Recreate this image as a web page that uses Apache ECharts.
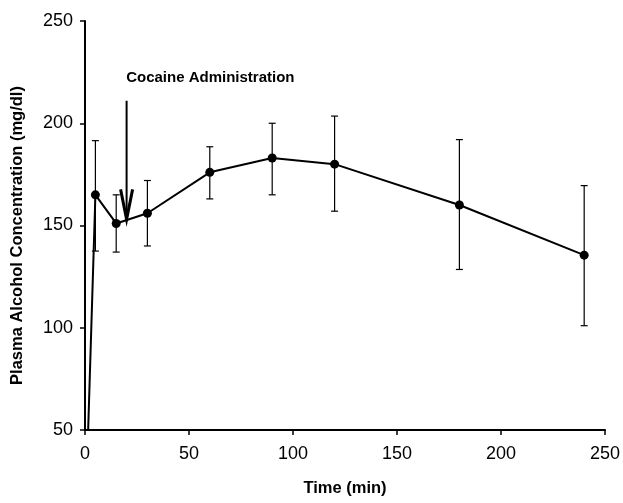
<!DOCTYPE html>
<html>
<head>
<meta charset="utf-8">
<script src="https://cdn.jsdelivr.net/npm/echarts@6/dist/echarts.min.js"></script>
<style>
  html, body { margin: 0; padding: 0; background: #fff; }
  #main { width: 623px; height: 503px; }
</style>
</head>
<body>
<div id="main"></div>
<script>
// 时间点 (min) 与血浆酒精浓度
var times = [0, 5, 15, 30, 60, 90, 120, 180, 240];
var means = [0, 165, 151, 156, 176, 183, 180, 160, 135.5];
var errHigh = [null, 191.5, 165, 172, 188.5, 200, 203.5, 192, 169.5];
var errLow = [null, 137.5, 137, 140, 163, 165, 157, 128.5, 101];

// 可卡因给药箭头
var arrowX = 20;
var arrowTop = 211;
var arrowTip = 153;
var arrowLabel = 'Cocaine Administration';
var labelPos = [19.8, 222];

var lineData = times.map(function (t, i) { return [t, means[i]]; });
var errData = [];
for (let i = 0; i < times.length; i++) {
  if (errHigh[i] != null) errData.push([times[i], errHigh[i], errLow[i]]);
}

var chart = echarts.init(document.getElementById('main'));

var option = {
  animation: false,
  backgroundColor: '#fff',
  grid: { left: 85, right: 16, top: 21, bottom: 73 },
  xAxis: {
    type: 'value',
    min: 0,
    max: 250,
    interval: 50,
    name: 'Time (min)',
    nameLocation: 'middle',
    nameGap: 50,
    nameTextStyle: { fontFamily: 'Liberation Sans', fontWeight: 'bold', fontSize: 16.5, color: '#000' },
    axisLine: { lineStyle: { color: '#000', width: 2 } },
    axisTick: { length: 5, lineStyle: { color: '#000', width: 1.5 } },
    axisLabel: { margin: 15, fontFamily: 'Liberation Sans', fontSize: 18, color: '#000' },
    splitLine: { show: false }
  },
  yAxis: {
    type: 'value',
    min: 50,
    max: 250,
    interval: 50,
    name: 'Plasma Alcohol Concentration (mg/dl)',
    nameLocation: 'middle',
    nameGap: 59,
    nameTextStyle: { fontFamily: 'Liberation Sans', fontWeight: 'bold', fontSize: 16.5, color: '#000', padding: [0, 20, 0, 0] },
    axisLine: { show: true, lineStyle: { color: '#000', width: 2 } },
    axisTick: { show: true, length: 5, lineStyle: { color: '#000', width: 1.5 } },
    axisLabel: { margin: 12, fontFamily: 'Liberation Sans', fontSize: 18, color: '#000' },
    splitLine: { show: false }
  },
  series: [
    {
      type: 'custom',
      name: 'error',
      data: errData,
      z: 1,
      renderItem: function (params, api) {
        var x = api.value(0);
        var hi = api.coord([x, api.value(1)]);
        var lo = api.coord([x, api.value(2)]);
        var w = 3.5;
        var st = { stroke: '#000', lineWidth: 1.2 };
        return {
          type: 'group',
          children: [
            { type: 'line', shape: { x1: hi[0], y1: hi[1], x2: lo[0], y2: lo[1] }, style: st },
            { type: 'line', shape: { x1: hi[0] - w, y1: hi[1], x2: hi[0] + w, y2: hi[1] }, style: st },
            { type: 'line', shape: { x1: lo[0] - w, y1: lo[1], x2: lo[0] + w, y2: lo[1] }, style: st }
          ]
        };
      }
    },
    {
      type: 'line',
      name: 'alcohol',
      data: lineData,
      z: 3,
      clip: true,
      symbol: 'circle',
      symbolSize: 9,
      itemStyle: { color: '#000' },
      lineStyle: { color: '#000', width: 2 }
    },
    {
      type: 'custom',
      name: 'arrow',
      data: [[arrowX, arrowTop, arrowTip]],
      z: 4,
      clip: false,
      renderItem: function (params, api) {
        var x = api.value(0);
        var top = api.coord([x, api.value(1)]);
        var tip = api.coord([x, api.value(2)]);
        var lab = api.coord(labelPos);
        var st = { stroke: '#000', lineWidth: 2 };
        return {
          type: 'group',
          children: [
            { type: 'line', shape: { x1: top[0], y1: top[1], x2: tip[0], y2: tip[1] }, style: st },
            { type: 'polyline', shape: { points: [[tip[0] - 6, tip[1] - 30], [tip[0], tip[1]], [tip[0] + 6, tip[1] - 30]] }, style: { stroke: '#000', lineWidth: 3, fill: null } },
            { type: 'text', x: lab[0], y: lab[1], style: { text: arrowLabel, fill: '#000', font: 'bold 15px "Liberation Sans"', textAlign: 'left', textVerticalAlign: 'middle' } }
          ]
        };
      }
    }
  ]
};

chart.setOption(option);
</script>
</body>
</html>
